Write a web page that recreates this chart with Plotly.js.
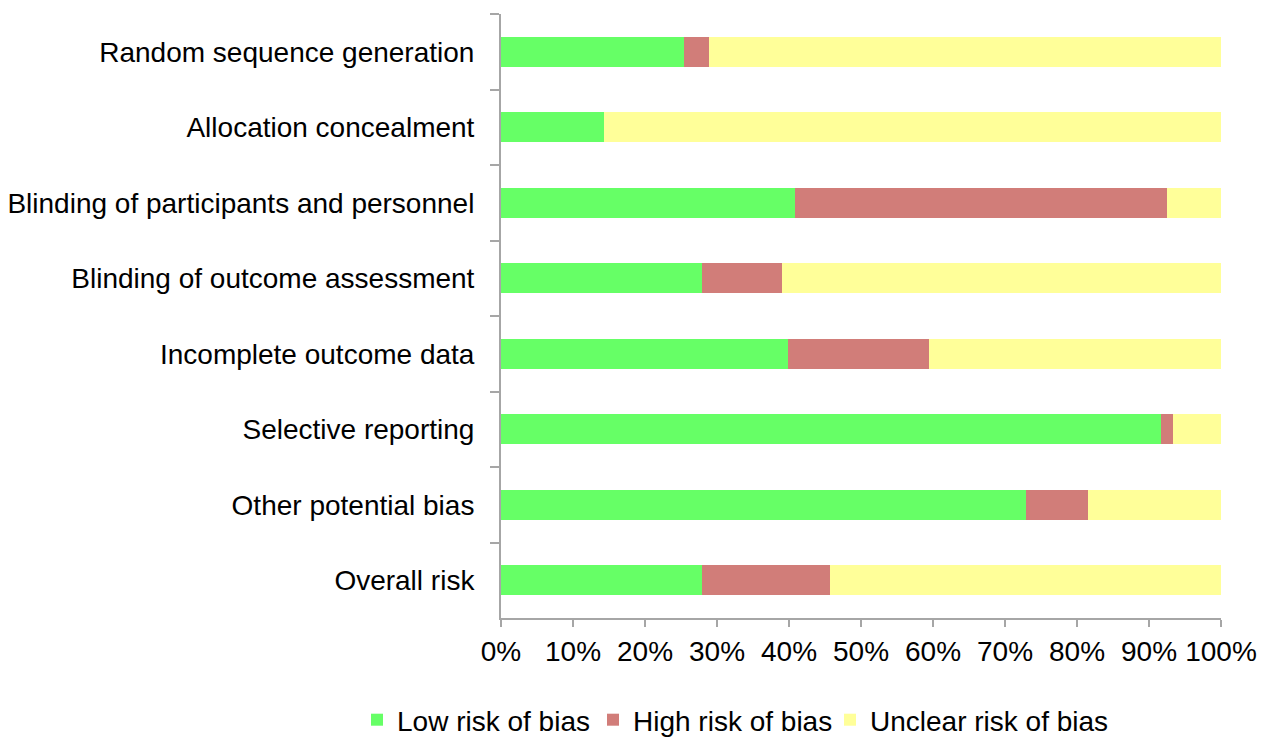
<!DOCTYPE html>
<html>
<head>
<meta charset="utf-8">
<script src="https://cdn.plot.ly/plotly-3.0.1.min.js"></script>
<style>html,body{margin:0;padding:0;background:#fff;}#chart{width:1269px;height:738px;}</style>
</head>
<body>
<div id="chart"></div>
<script>
const categories = [
  "Random sequence generation",
  "Allocation concealment",
  "Blinding of participants and personnel",
  "Blinding of outcome assessment",
  "Incomplete outcome data",
  "Selective reporting",
  "Other potential bias",
  "Overall risk"
];
const lowRisk     = [25.4, 14.3, 40.8, 27.9, 39.9, 91.6, 72.9, 27.9];
const highRisk    = [3.5, 0.0, 51.7, 11.1, 19.5, 1.8, 8.6, 17.8];
const unclearRisk = [71.1, 85.7, 7.5, 61.0, 40.6, 6.6, 18.5, 54.3];
const seriesNames = ["Low risk of bias", "High risk of bias", "Unclear risk of bias"];
const tickVals = [0, 10, 20, 30, 40, 50, 60, 70, 80, 90, 100];
const tickText = ["0%", "10%", "20%", "30%", "40%", "50%", "60%", "70%", "80%", "90%", "100%"];

const font = {family: "Liberation Sans, Arial, sans-serif", size: 28, color: "#000"};
const colors = ["#66FF66", "#D17D79", "#FFFF99"];
const legendIds = ["legend", "legend2", "legend3"];
const traces = [lowRisk, highRisk, unclearRisk].map((vals, i) => ({
  type: "bar", orientation: "h", name: seriesNames[i], x: vals, y: categories,
  marker: {color: colors[i], line: {width: 0}}, hoverinfo: "x+name",
  legend: legendIds[i]
}));

const plotL = 501, plotW = 720, plotB = 618, plotH = 604;
function legendAt(px) {
  return {orientation: "h", x: (px - plotL) / plotW, xanchor: "left",
          y: -(720 - plotB) / plotH, yanchor: "middle", font: font,
          itemwidth: 30, bgcolor: "rgba(0,0,0,0)"};
}

const layout = {
  width: 1269, height: 738,
  margin: {l: 501, r: 48, t: 14, b: 120, pad: 0, autoexpand: false},
  barmode: "stack", bargap: 0.6,
  paper_bgcolor: "#fff", plot_bgcolor: "#fff",
  font: font,
  showlegend: true,
  legend: legendAt(357),
  legend2: legendAt(593),
  legend3: legendAt(830),
  xaxis: {range: [0, 100], tickvals: tickVals, ticktext: tickText, showgrid: false, zeroline: false,
          showline: true, linecolor: "#A6A6A6", linewidth: 2, ticks: "outside", ticklen: 7,
          tickcolor: "#A6A6A6", tickwidth: 2, tickfont: font, automargin: false, fixedrange: true},
  yaxis: {type: "category", autorange: "reversed", showgrid: false, zeroline: false,
          showline: true, linecolor: "#A6A6A6", linewidth: 2, ticks: "outside", ticklen: 9,
          tickson: "boundaries", tickcolor: "#A6A6A6", tickwidth: 2, tickfont: font,
          ticklabelstandoff: 19, automargin: false, fixedrange: true}
};
Plotly.newPlot("chart", traces, layout, {displayModeBar: false, staticPlot: true});
</script>
</body>
</html>
